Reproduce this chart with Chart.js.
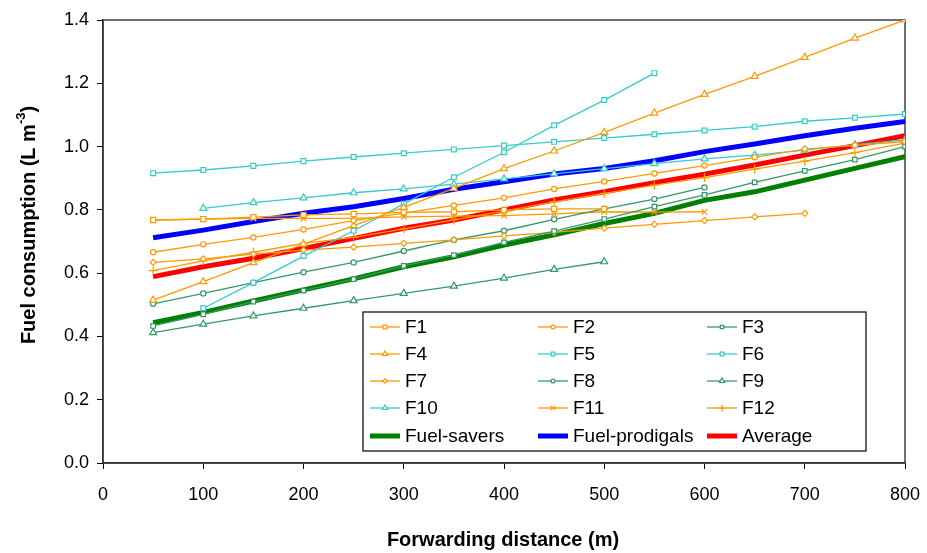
<!DOCTYPE html>
<html>
<head>
<meta charset="utf-8">
<script src="https://cdn.jsdelivr.net/npm/chart.js@4/dist/chart.umd.min.js"></script>
<style>
  html, body { margin: 0; background: #fff; }
  #wrap { width: 927px; height: 553px; position: relative; }
</style>
</head>
<body>
<div id="wrap"><canvas id="c"></canvas></div>
<script>
// forwarding distance (m), one slot per 50 m step
const distance = [50, 100, 150, 200, 250, 300, 350, 400, 450, 500, 550, 600, 650, 700, 750, 800];

// fuel consumption (L m-3) per forwarder; null = no measurement at that distance
const f1  = [0.768, 0.771, 0.777, 0.784, 0.787, 0.792, 0.794, 0.800, 0.803, 0.803];
const f2  = [0.666, 0.691, 0.713, 0.738, 0.766, 0.790, 0.814, 0.838, 0.866, 0.890, 0.915, 0.940, 0.966, 0.992, 1.004, 1.016];
const f3  = [0.433, 0.470, 0.510, 0.545, 0.581, 0.623, 0.657, 0.697, 0.733, 0.771, 0.810, 0.847, 0.887, 0.923, 0.959, 1.000];
const f4  = [0.515, 0.573, 0.633, 0.692, 0.750, 0.808, 0.868, 0.930, 0.986, 1.045, 1.106, 1.165, 1.222, 1.282, 1.343, 1.400];
const f5  = [null, 0.489, 0.570, 0.654, 0.734, 0.819, 0.903, 0.982, 1.067, 1.147, 1.232];
const f6  = [0.916, 0.926, 0.939, 0.954, 0.967, 0.979, 0.991, 1.003, 1.015, 1.027, 1.039, 1.051, 1.063, 1.080, 1.091, 1.103];
const f7  = [0.634, 0.645, 0.660, 0.673, 0.682, 0.694, 0.705, 0.718, 0.729, 0.742, 0.754, 0.766, 0.778, 0.789];
const f8  = [0.503, 0.536, 0.570, 0.603, 0.634, 0.670, 0.705, 0.734, 0.770, 0.803, 0.834, 0.871];
const f9  = [0.412, 0.439, 0.465, 0.489, 0.513, 0.536, 0.559, 0.584, 0.612, 0.636];
const f10 = [null, 0.805, 0.823, 0.838, 0.854, 0.866, 0.881, 0.898, 0.914, 0.930, 0.946, 0.961, 0.973, 0.989, 1.006, 1.021];
const f11 = [0.768, 0.771, 0.773, 0.773, 0.773, 0.778, 0.780, 0.782, 0.787, 0.794, 0.793, 0.794];
const f12 = [0.608, 0.639, 0.666, 0.694, 0.713, 0.740, 0.768, 0.796, 0.825, 0.852, 0.878, 0.902, 0.929, 0.954, 0.981, 1.011];

const fuelSavers    = [0.443, 0.476, 0.512, 0.547, 0.582, 0.620, 0.652, 0.689, 0.721, 0.757, 0.789, 0.830, 0.857, 0.894, 0.931, 0.968];
const fuelProdigals = [0.712, 0.736, 0.763, 0.789, 0.810, 0.836, 0.865, 0.889, 0.913, 0.931, 0.955, 0.984, 1.008, 1.034, 1.058, 1.079];
const average       = [0.589, 0.620, 0.647, 0.678, 0.710, 0.742, 0.768, 0.800, 0.831, 0.857, 0.886, 0.913, 0.942, 0.973, 1.003, 1.034];

const xTicks = [0, 100, 200, 300, 400, 500, 600, 700, 800];
const yTicks = [0, 0.2, 0.4, 0.6, 0.8, 1.0, 1.2, 1.4];

const ORANGE = "#ff9900", CYAN = "#33cccc", SEA = "#339966";
const FONT = "'Liberation Sans', Arial, sans-serif";

const pts = (vals) => vals.map((v, i) => (v == null ? null : { x: distance[i], y: v })).filter(Boolean);

function thin(label, vals, color, style, r) {
  return {
    label, data: pts(vals), borderColor: color, borderWidth: 1.3,
    pointStyle: style, pointRadius: r, pointBorderWidth: 1.2,
    pointBackgroundColor: "#fff", pointBorderColor: color, order: 0,
  };
}
function thick(label, vals, color) {
  return { label, data: pts(vals), borderColor: color, borderWidth: 5, pointRadius: 0, order: 10 };
}

const datasets = [
  thin("F1", f1, ORANGE, "rect", 3.6),
  thin("F2", f2, ORANGE, "circle", 2.6),
  thin("F3", f3, SEA, "rect", 3.2),
  thin("F4", f4, ORANGE, "triangle", 4),
  thin("F5", f5, CYAN, "rect", 3.4),
  thin("F6", f6, CYAN, "rect", 3.4),
  thin("F7", f7, ORANGE, "rectRot", 3),
  thin("F8", f8, SEA, "circle", 2.6),
  thin("F9", f9, SEA, "triangle", 4),
  thin("F10", f10, CYAN, "triangle", 4),
  thin("F11", f11, ORANGE, "crossRot", 4),
  thin("F12", f12, ORANGE, "cross", 4.5),
  thick("Fuel-savers", fuelSavers, "#008000"),
  thick("Fuel-prodigals", fuelProdigals, "#0000ff"),
  thick("Average", average, "#ff0000"),
];

// frame, axis titles and the boxed legend inside the plot
const decor = {
  id: "decor",
  beforeDatasetsDraw(chart) {
    const { ctx, chartArea: a } = chart;
    ctx.save();
    ctx.strokeStyle = "#404040";
    ctx.lineWidth = 1.5;
    ctx.strokeRect(a.left, a.top, a.right - a.left, a.bottom - a.top);
    ctx.restore();
  },
  afterDraw(chart) {
    const { ctx } = chart;
    ctx.save();
    ctx.fillStyle = "#000";
    // x title
    ctx.font = `bold 20px ${FONT}`;
    ctx.textAlign = "center";
    ctx.textBaseline = "middle";
    ctx.fillText("Forwarding distance (m)", 503, 540);
    // y title with superscript
    ctx.translate(29, 225);
    ctx.rotate(-Math.PI / 2);
    const main = "Fuel consumption (L m", sup = "-3", close = ")";
    ctx.font = `bold 20px ${FONT}`;
    const wMain = ctx.measureText(main).width, wClose = ctx.measureText(close).width;
    ctx.font = `bold 13px ${FONT}`;
    const wSup = ctx.measureText(sup).width;
    let x = -(wMain + wSup + wClose) / 2;
    ctx.textAlign = "left";
    ctx.font = `bold 20px ${FONT}`;
    ctx.fillText(main, x, 0); x += wMain;
    ctx.font = `bold 13px ${FONT}`;
    ctx.fillText(sup, x, -8); x += wSup;
    ctx.font = `bold 20px ${FONT}`;
    ctx.fillText(close, x, 0);
    ctx.restore();

    // legend
    ctx.save();
    ctx.fillStyle = "#fff";
    ctx.fillRect(363, 312, 503, 139);
    ctx.strokeStyle = "#000";
    ctx.lineWidth = 1.2;
    ctx.strokeRect(363, 312, 503, 139);
    const cols = [370, 538, 707], rows = [327, 354, 381, 408, 436];
    chart.data.datasets.forEach((ds, i) => {
      const x0 = cols[i % 3], y0 = rows[Math.floor(i / 3)];
      ctx.strokeStyle = ds.borderColor;
      ctx.lineWidth = ds.borderWidth;
      ctx.beginPath(); ctx.moveTo(x0, y0); ctx.lineTo(x0 + 30, y0); ctx.stroke();
      if (ds.pointRadius) {
        ctx.fillStyle = "#fff";
        ctx.strokeStyle = ds.pointBorderColor;
        ctx.lineWidth = 1.2;
        Chart.helpers.drawPoint(ctx, { pointStyle: ds.pointStyle, radius: ds.pointRadius * 0.75, borderWidth: 1.2, rotation: 0 }, x0 + 15, y0);
      }
      ctx.fillStyle = "#000";
      ctx.font = `19px ${FONT}`;
      ctx.textAlign = "left";
      ctx.textBaseline = "middle";
      ctx.fillText(ds.label, x0 + 35, y0 + 1);
    });
    ctx.restore();
  },
};

new Chart(document.getElementById("c"), {
  type: "line",
  data: { datasets },
  options: {
    responsive: true,
    maintainAspectRatio: false,
    animation: false,
    layout: { padding: { left: 0, right: 22, top: 20, bottom: 0 } },
    plugins: { legend: { display: false }, tooltip: { enabled: false } },
    scales: {
      x: {
        type: "linear", min: 0, max: 800,
        afterBuildTicks: (s) => { s.ticks = xTicks.map((v) => ({ value: v })); },
        afterFit: (s) => { s.height = 90; s.paddingLeft = 0; s.paddingRight = 0; },
        grid: { drawOnChartArea: false, drawTicks: true, tickLength: 6, color: "#000" },
        border: { color: "#000", width: 1.5 },
        ticks: { color: "#000", font: { family: FONT, size: 18 }, padding: 15, maxRotation: 0 },
      },
      y: {
        min: 0, max: 1.4,
        afterBuildTicks: (s) => { s.ticks = yTicks.map((v) => ({ value: v })); },
        afterFit: (s) => { s.width = 103; s.paddingTop = 0; s.paddingBottom = 0; },
        grid: { drawOnChartArea: false, drawTicks: true, tickLength: 6, color: "#000" },
        border: { color: "#000", width: 1.5 },
        ticks: { color: "#000", font: { family: FONT, size: 18 }, padding: 8, callback: (v) => v.toFixed(1) },
      },
    },
  },
  plugins: [decor],
});
</script>
</body>
</html>
